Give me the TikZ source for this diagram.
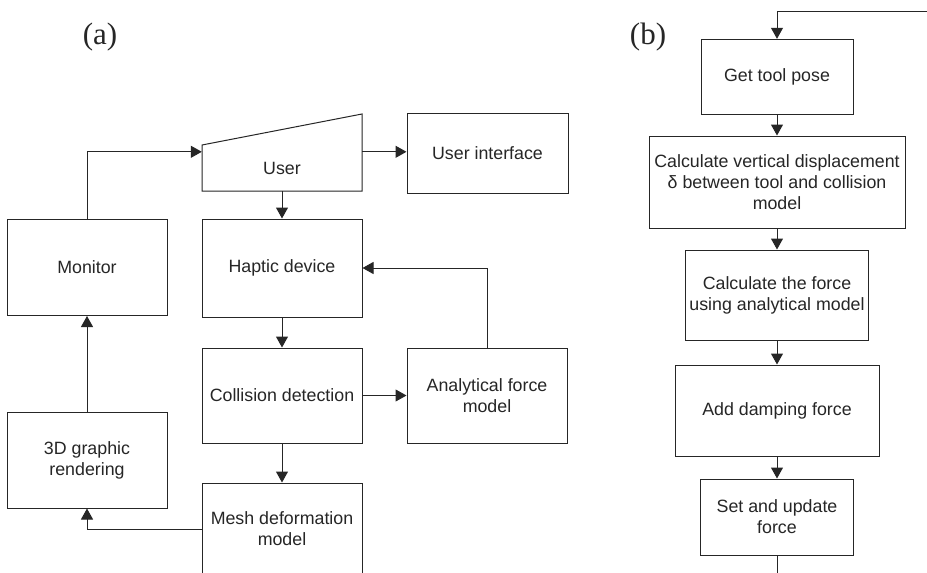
\documentclass[tikz,border=0pt]{standalone}
\usepackage{fontspec}
\setmainfont{Liberation Sans}
\newfontfamily\labfont{Liberation Serif}
\usetikzlibrary{arrows.meta}
\definecolor{ink}{HTML}{262626}
\tikzset{
  blk/.style={draw=ink, line width=1pt, rectangle, inner sep=0pt, align=center,
    text=ink, font=\fontsize{17.8}{21}\selectfont},
  txt/.style={inner sep=0pt, align=center, text=ink, font=\fontsize{17.8}{21}\selectfont},
  arr/.style={draw=ink, line width=1pt, -{Triangle[length=11pt,width=12pt]}},
  ln/.style={draw=ink, line width=1pt},
  lab/.style={inner sep=0pt, text=ink, font=\labfont\fontsize{31}{36}\selectfont}
}
\begin{document}
\begin{tikzpicture}[x=1pt,y=-1pt]
\clip (0,0) rectangle (927,573);
\fill[white] (0,0) rectangle (927,573);
% labels
\node[lab] (la) at (100,37) {(a)};
\node[lab] (lb) at (648,37) {(b)};
% left diagram
\draw[ln] (202,145) -- (362,114) -- (362,191) -- (202,191) -- cycle;
\node[txt, minimum width=160pt, minimum height=46pt] (user) at (282,168) {User};
\node[blk, minimum width=161pt, minimum height=80pt] (ui) at (487.5,153) {User interface};
\node[blk, minimum width=160pt, minimum height=98pt] (haptic) at (282,268) {Haptic device};
\node[blk, minimum width=160pt, minimum height=96pt] (monitor) at (87,267.5) {Monitor};
\node[blk, minimum width=160pt, minimum height=95pt] (coll) at (282,395.5) {Collision detection};
\node[blk, minimum width=160pt, minimum height=95pt] (anal) at (487,395.5) {Analytical force\\model};
\node[blk, minimum width=160pt, minimum height=96pt] (render) at (87,460) {3D graphic\\rendering};
\node[blk, minimum width=160pt, minimum height=92pt] (mesh) at (282,529) {Mesh deformation\\model};
\draw[arr] (monitor.north) |- ([yshift=-7pt]user.north west);
\draw[arr] ([yshift=-7pt]user.north east) -- ([yshift=-7pt]user.north east -| ui.west);
\draw[arr] (user.south) -- (haptic.north);
\draw[arr] (haptic.south) -- (coll.north);
\draw[arr] (coll.east) -- (anal.west);
\draw[arr] (anal.north) |- (haptic.east);
\draw[arr] (coll.south) -- (mesh.south |- mesh.north);
\draw[arr] (mesh.west) -| (render.south);
\draw[arr] (render.north) -- (monitor.south);
% right diagram
\node[blk, minimum width=152pt, minimum height=75pt] (get) at (777,76.8) {Get tool pose};
\node[blk, minimum width=256pt, minimum height=92pt] (calcd) at (777,182) {Calculate vertical displacement\\δ between tool and collision\\model};
\node[blk, minimum width=183pt, minimum height=90pt] (calcf) at (777,295) {Calculate the force\\using analytical model};
\node[blk, minimum width=204pt, minimum height=91pt] (damp) at (777,410.5) {Add damping force};
\node[blk, minimum width=153pt, minimum height=76pt] (setf) at (777,517) {Set and update\\force};
\coordinate (loopR) at (927,11);
\coordinate (loopB) at (777,580);
\draw[arr] (loopR) -| (get.north);
\draw[arr] (get.south) -- (calcd.north);
\draw[arr] (calcd.south) -- (calcf.north);
\draw[arr] (calcf.south) -- (damp.north);
\draw[arr] (damp.south) -- (setf.north);
\draw[ln] (setf.south) -- (loopB);
\end{tikzpicture}
\end{document}
